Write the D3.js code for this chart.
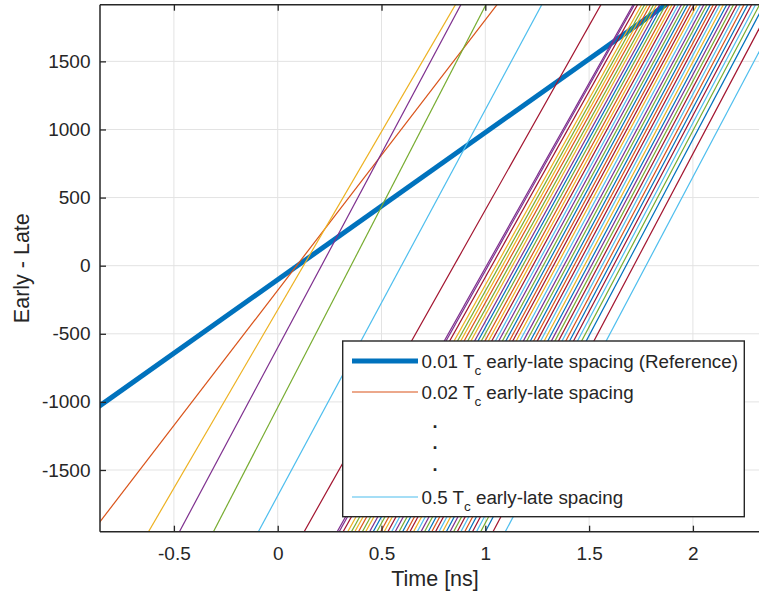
<!DOCTYPE html>
<html>
<head>
<meta charset="utf-8">
<script src="https://cdn.jsdelivr.net/npm/d3@7"></script>
<style>
  html, body { margin: 0; padding: 0; background: #fff; }
  svg { display: block; }
  text { font-family: "Liberation Sans", Arial, Helvetica, sans-serif; }
</style>
</head>
<body>
<svg id="chart" width="759" height="598"></svg>
<script>
// ---------------- data ----------------
// early-late spacing in chips (Tc)
const spacingTc = [0.01,0.02,0.03,0.04,0.05,0.06,0.07,0.08,0.09,0.10,
                   0.11,0.12,0.13,0.14,0.15,0.16,0.17,0.18,0.19,0.20,
                   0.21,0.22,0.23,0.24,0.25,0.26,0.27,0.28,0.29,0.30,
                   0.31,0.32,0.33,0.34,0.35,0.36,0.37,0.38,0.39,0.40,
                   0.41,0.42,0.43,0.44,0.45,0.46,0.47,0.48,0.49,0.50];
// time (ns) where each discriminator curve crosses zero
const zeroCrossNs = [0.095,0.091,0.124,0.211,0.353,0.596,0.849,
                     1.006,1.014,1.031,1.052,1.068,1.083,1.099,1.116,1.131,1.148,
                     1.164,1.180,1.197,1.213,1.229,1.246,1.262,1.279,1.295,1.312,
                     1.328,1.344,1.361,1.378,1.394,1.411,1.427,1.444,1.460,1.477,
                     1.494,1.511,1.528,1.545,1.562,1.580,1.598,1.617,1.636,1.656,
                     1.678,1.715,1.774];
// slope of each curve (Early - Late units per ns)
const slopePerNs = [1080,1985,2617,2854,2948,2834,2707,
                    2714,2720,2728,2733,2740,2745,2751,2758,2762,2769,
                    2774,2780,2786,2790,2797,2801,2806,2812,2817,2822,
                    2826,2832,2836,2840,2845,2848,2852,2856,2859,2862,
                    2865,2868,2870,2872,2874,2876,2877,2878,2879,2880,
                    2881,2881,2882];
const xTicks = [-0.5, 0, 0.5, 1, 1.5, 2];
const yTicks = [-1500, -1000, -500, 0, 500, 1000, 1500];
const legendLabels = ["0.01 T|c| early-late spacing (Reference)", "0.02 T|c| early-late spacing", "0.5 T|c| early-late spacing"];

// ---------------- styles ----------------
const C = { blue:"#0072BD", orange:"#D95319", yellow:"#EDB120", purple:"#7E2F8E",
            green:"#77AC30", cyan:"#4DBEEE", red:"#A2142F" };
const lineColors = [C.blue,C.orange,C.yellow,C.purple,C.green,C.cyan,C.red,
  C.purple,C.purple,C.red,C.yellow,C.green,C.yellow,C.orange,C.green,C.yellow,C.purple,
  C.blue,C.green,C.orange,C.yellow,C.red,C.cyan,C.purple,C.green,C.blue,C.orange,
  C.red,C.yellow,C.cyan,C.purple,C.green,C.blue,C.orange,C.red,C.cyan,C.yellow,
  C.blue,C.purple,C.green,C.red,C.cyan,C.orange,C.blue,C.red,C.cyan,C.green,
  C.blue,C.red,C.cyan];

// ---------------- layout ----------------
const svg = d3.select("#chart");
const L = 100, T = 4.7, B = 531.7;
const x = d3.scaleLinear().domain([-0.856, 2.42]).range([L, L + 3.276 * 207.6]);
const y = d3.scaleLinear().domain([-1953, 1916]).range([B, T]);
const R = x.range()[1];
const axisColor = "#262626";
const FONT = "'Liberation Sans', Arial, Helvetica, sans-serif";

svg.append("defs").append("clipPath").attr("id", "clip")
  .append("rect").attr("x", L).attr("y", T).attr("width", R - L).attr("height", B - T);

// grid
const grid = svg.append("g");
grid.selectAll(".gx").data(xTicks).enter().append("line")
  .attr("x1", d => x(d)).attr("x2", d => x(d)).attr("y1", T).attr("y2", B)
  .attr("stroke", "#e3e3e3").attr("stroke-width", 1);
grid.selectAll(".gy").data(yTicks).enter().append("line")
  .attr("x1", L).attr("x2", R).attr("y1", d => y(d)).attr("y2", d => y(d))
  .attr("stroke", "#e3e3e3").attr("stroke-width", 1);

// lines
const lineGen = d3.line().x(d => x(d[0])).y(d => y(d[1]));
const plot = svg.append("g").attr("clip-path", "url(#clip)");
const series = spacingTc.map((s, i) => {
  const t0 = zeroCrossNs[i], k = slopePerNs[i];
  const ta = t0 - 2200 / k, tb = t0 + 2200 / k;
  return { s, color: lineColors[i], pts: [[ta, k * (ta - t0)], [tb, k * (tb - t0)]], ref: i === 0 };
});
plot.selectAll("path.s").data(series).enter().append("path")
  .attr("d", d => lineGen(d.pts))
  .attr("fill", "none")
  .attr("stroke", d => d.color)
  .attr("stroke-width", d => d.ref ? 5 : 1.2);

// axes (MATLAB-like box with inward ticks)
const axG = svg.append("g");
axG.append("line").attr("x1", L).attr("x2", R).attr("y1", B).attr("y2", B).attr("stroke", axisColor).attr("stroke-width", 1.5);
axG.append("line").attr("x1", L).attr("x2", R).attr("y1", T).attr("y2", T).attr("stroke", axisColor).attr("stroke-width", 1.5);
axG.append("line").attr("x1", L).attr("x2", L).attr("y1", T).attr("y2", B).attr("stroke", axisColor).attr("stroke-width", 1.5);

const xAxisB = d3.axisBottom(x).tickValues(xTicks).tickSizeInner(-6).tickSizeOuter(0).tickPadding(15)
  .tickFormat(d => String(d));
const gxb = svg.append("g").attr("transform", `translate(0,${B})`).call(xAxisB);
const xAxisT = d3.axisTop(x).tickValues(xTicks).tickSizeInner(-6).tickSizeOuter(0).tickFormat("");
const gxt = svg.append("g").attr("transform", `translate(0,${T})`).call(xAxisT);
const yAxis = d3.axisLeft(y).tickValues(yTicks).tickSizeInner(-6).tickSizeOuter(0).tickPadding(9.5)
  .tickFormat(d => String(d));
const gy = svg.append("g").attr("transform", `translate(${L},0)`).call(yAxis);
[gxb, gxt, gy].forEach(g => {
  g.select(".domain").remove();
  g.selectAll(".tick line").attr("stroke", axisColor).attr("stroke-width", 1.3);
  g.selectAll(".tick text").attr("fill", axisColor).attr("font-size", 19).attr("font-family", FONT);
});

// axis labels
svg.append("text").attr("x", 435).attr("y", 586).attr("text-anchor", "middle")
  .attr("font-size", 21.5).attr("fill", axisColor).text("Time [ns]");
svg.append("text").attr("transform", `translate(29,${(T + B) / 2}) rotate(-90)`).attr("text-anchor", "middle")
  .attr("font-size", 21.5).attr("fill", axisColor).text("Early - Late");

// legend
const lg = svg.append("g");
const lx = 342.7, ly = 341, lw = 401.6, lh = 175.7;
lg.append("rect").attr("x", lx).attr("y", ly).attr("width", lw).attr("height", lh)
  .attr("fill", "#fff").attr("stroke", axisColor).attr("stroke-width", 1.4);
const legendRows = [
  { label: legendLabels[0], color: lineColors[0], w: 5, yy: 361 },
  { label: legendLabels[1], color: lineColors[1], w: 1.2, yy: 392 },
  { label: legendLabels[2], color: lineColors[49], w: 1.2, yy: 497 }
];
legendRows.forEach(r => {
  lg.append("line").attr("x1", 352).attr("x2", 418).attr("y1", r.yy).attr("y2", r.yy)
    .attr("stroke", r.color).attr("stroke-width", r.w);
  const parts = r.label.split("|");
  const t = lg.append("text").attr("x", 421.5).attr("y", r.yy + 6.5).attr("font-size", 18.8).attr("fill", axisColor);
  t.append("tspan").text(parts[0]);
  t.append("tspan").attr("font-size", 13.5).attr("dy", 7).text(parts[1]);
  t.append("tspan").attr("dy", -7).text(parts[2]);
});
[426, 447, 469].forEach(dy => {
  lg.append("text").attr("x", 435).attr("y", dy + 2).attr("text-anchor", "middle")
    .attr("font-size", 18).attr("font-weight", "bold").attr("fill", axisColor).text(".");
});
</script>
</body>
</html>
